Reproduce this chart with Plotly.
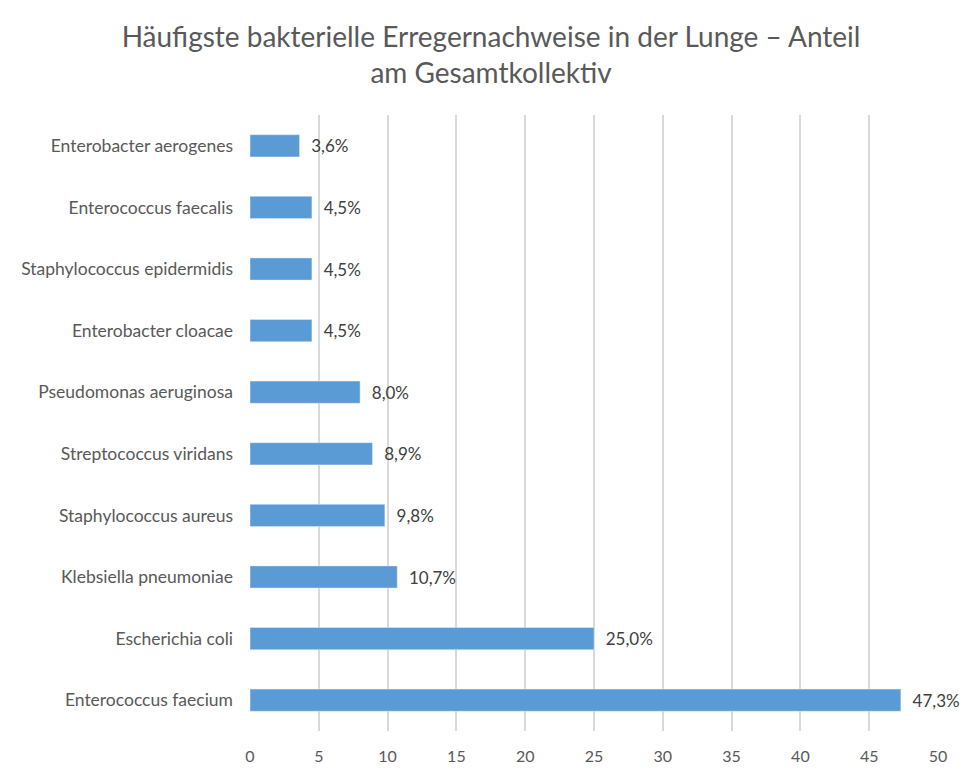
import plotly.graph_objects as go

erreger = ["Enterococcus faecium", "Escherichia coli", "Klebsiella pneumoniae",
           "Staphylococcus aureus", "Streptococcus viridans", "Pseudomonas aeruginosa",
           "Enterobacter cloacae", "Staphylococcus epidermidis", "Enterococcus faecalis",
           "Enterobacter aerogenes"]
anteil = [47.3, 25.0, 10.7, 9.8, 8.9, 8.0, 4.5, 4.5, 4.5, 3.6]
labels = ["\u00a0\u00a0" + f"{v:.1f}%".replace(".", ",") for v in anteil]

font = "Lato"
grau = "#595959"

fig = go.Figure(go.Bar(
    x=anteil, y=erreger, orientation="h",
    marker=dict(color="#5B9BD5"),
    text=labels, textposition="outside", cliponaxis=False,
    textfont=dict(family=font, size=17, color="#404040"),
))

fig.update_layout(
    width=969, height=777,
    margin=dict(l=242, r=39, t=107, b=54),
    paper_bgcolor="white", plot_bgcolor="white",
    title=dict(text="Häufigste bakterielle Erregernachweise in der Lunge – Anteil<br>am Gesamtkollektiv",
               x=0.4985, xanchor="center", y=0.95, yanchor="top",
               font=dict(family=font, size=28, color=grau)),
    bargap=0.64,
    showlegend=False,
)
fig.update_xaxes(range=[0, 50], dtick=5, showgrid=True, gridcolor="#D9D9D9", gridwidth=1.5,
                 zeroline=False, showline=False,
                 tickfont=dict(family=font, size=16, color=grau), ticklabelstandoff=14)
fig.update_yaxes(showgrid=False, showline=False, zeroline=False,
                 tickfont=dict(family=font, size=17.5, color=grau), ticklabelstandoff=16)

fig.write_html("out.html")
